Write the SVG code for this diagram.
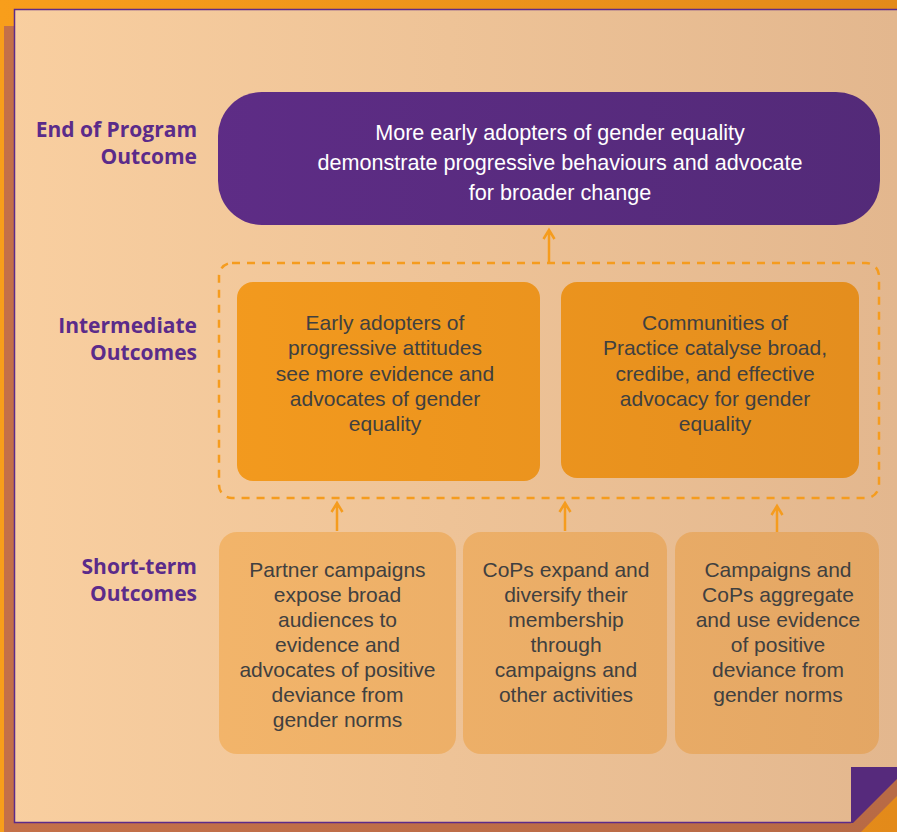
<svg xmlns="http://www.w3.org/2000/svg" width="897" height="832" viewBox="0 0 897 832">
<defs>
<linearGradient id="gOrange" gradientUnits="userSpaceOnUse" x1="0" y1="0" x2="897" y2="0"><stop offset="0" stop-color="#f89e1b"/><stop offset="1" stop-color="#e38a1a"/></linearGradient>
<linearGradient id="gBrown" gradientUnits="userSpaceOnUse" x1="0" y1="0" x2="897" y2="0"><stop offset="0" stop-color="#c47049"/><stop offset="1" stop-color="#b86a45"/></linearGradient>
<linearGradient id="gPanel" gradientUnits="userSpaceOnUse" x1="0" y1="0" x2="897" y2="0"><stop offset="0" stop-color="#f9cfa0"/><stop offset="1" stop-color="#e3b78e"/></linearGradient>
<linearGradient id="gPurple" gradientUnits="userSpaceOnUse" x1="0" y1="0" x2="897" y2="0"><stop offset="0" stop-color="#612d8a"/><stop offset="1" stop-color="#532a78"/></linearGradient>
<linearGradient id="gMid" gradientUnits="userSpaceOnUse" x1="0" y1="0" x2="897" y2="0"><stop offset="0" stop-color="#f89e1e"/><stop offset="1" stop-color="#e38d1e"/></linearGradient>
<linearGradient id="gShort" gradientUnits="userSpaceOnUse" x1="0" y1="0" x2="897" y2="0"><stop offset="0" stop-color="#f7b96c"/><stop offset="1" stop-color="#e3a664"/></linearGradient>
</defs>
<style>
.lbl{font-family:"Open Sans","DejaVu Sans",sans-serif;font-weight:700;font-size:21px;fill:#5b2b8a;text-anchor:end}
.body{font-family:"Liberation Sans",Arial,sans-serif;font-size:21px;text-anchor:middle;fill:#404040}
.white{fill:#ffffff;font-size:21.6px}
.arrow{fill:none;stroke:#f59c1e;stroke-width:2.5;stroke-linecap:butt;stroke-linejoin:miter}
.dash{fill:none;stroke:#f59c1e;stroke-width:2.5;stroke-dasharray:8 7}
</style>
<rect x="0" y="0" width="897" height="832" fill="url(#gOrange)"/>
<polygon points="4,26 897,26 897,796 861,832 4,832" fill="url(#gBrown)"/>
<polygon points="14.5,9.5 897,9.5 897,767 851,767 851,822.5 14.5,822.5" fill="url(#gPanel)"/>
<polyline points="897,9.5 14.5,9.5 14.5,822.5 851,822.5" fill="none" stroke="#5b2b8a" stroke-width="1.5"/>
<polygon points="851,767 897,767 897,779 853,823 851,823" fill="#562a7c"/>

<g id="label-end">
<text class="lbl" x="197" y="137">End of Program</text>
<text class="lbl" x="197" y="164">Outcome</text>
</g>
<g id="label-intermediate">
<text class="lbl" x="197" y="333">Intermediate</text>
<text class="lbl" x="197" y="360">Outcomes</text>
</g>
<g id="label-short">
<text class="lbl" x="197" y="574">Short-term</text>
<text class="lbl" x="197" y="601">Outcomes</text>
</g>

<g id="end-outcome">
<rect x="218" y="92" width="662" height="133" rx="44" fill="url(#gPurple)"/>
<text class="body white" x="560" y="140">More early adopters of gender equality</text>
<text class="body white" x="560" y="170">demonstrate progressive behaviours and advocate</text>
<text class="body white" x="560" y="200">for broader change</text>
</g>

<g id="intermediate-group">
<rect class="dash" x="219" y="263" width="660" height="235" rx="13"/>
</g>

<g id="intermediate-1">
<rect x="237" y="282" width="303" height="199" rx="16" fill="url(#gMid)"/>
<text class="body" x="385" y="330">Early adopters of</text>
<text class="body" x="385" y="355">progressive attitudes</text>
<text class="body" x="385" y="380.5">see more evidence and</text>
<text class="body" x="385" y="405.5">advocates of gender</text>
<text class="body" x="385" y="430.5">equality</text>
</g>

<g id="intermediate-2">
<rect x="561" y="282" width="298" height="196" rx="16" fill="url(#gMid)"/>
<text class="body" x="715" y="330">Communities of</text>
<text class="body" x="715" y="355">Practice catalyse broad,</text>
<text class="body" x="715" y="380.5">credibe, and effective</text>
<text class="body" x="715" y="405.5">advocacy for gender</text>
<text class="body" x="715" y="430.5">equality</text>
</g>

<g id="short-1">
<rect x="219" y="532" width="237" height="222" rx="18" fill="url(#gShort)"/>
<text class="body" x="337.5" y="577">Partner campaigns</text>
<text class="body" x="337.5" y="602">expose broad</text>
<text class="body" x="337.5" y="627">audiences to</text>
<text class="body" x="337.5" y="652">evidence and</text>
<text class="body" x="337.5" y="677">advocates of positive</text>
<text class="body" x="337.5" y="702">deviance from</text>
<text class="body" x="337.5" y="727">gender norms</text>
</g>

<g id="short-2">
<rect x="463" y="532" width="204" height="222" rx="18" fill="url(#gShort)"/>
<text class="body" x="566" y="577">CoPs expand and</text>
<text class="body" x="566" y="602">diversify their</text>
<text class="body" x="566" y="627">membership</text>
<text class="body" x="566" y="652">through</text>
<text class="body" x="566" y="677">campaigns and</text>
<text class="body" x="566" y="702">other activities</text>
</g>

<g id="short-3">
<rect x="675" y="532" width="204" height="222" rx="18" fill="url(#gShort)"/>
<text class="body" x="778" y="577">Campaigns and</text>
<text class="body" x="778" y="602">CoPs aggregate</text>
<text class="body" x="778" y="627">and use evidence</text>
<text class="body" x="778" y="652">of positive</text>
<text class="body" x="778" y="677">deviance from</text>
<text class="body" x="778" y="702">gender norms</text>
</g>

<g id="connectors">
<path class="arrow" d="M549,263 V230 M543.5,239 L549,230 L554.5,239"/>
<path class="arrow" d="M337,531 V503 M331.5,512 L337,503 L342.5,512"/>
<path class="arrow" d="M565,531 V503 M559.5,512 L565,503 L570.5,512"/>
<path class="arrow" d="M777,532 V506 M771.5,515 L777,506 L782.5,515"/>
</g>
</svg>
